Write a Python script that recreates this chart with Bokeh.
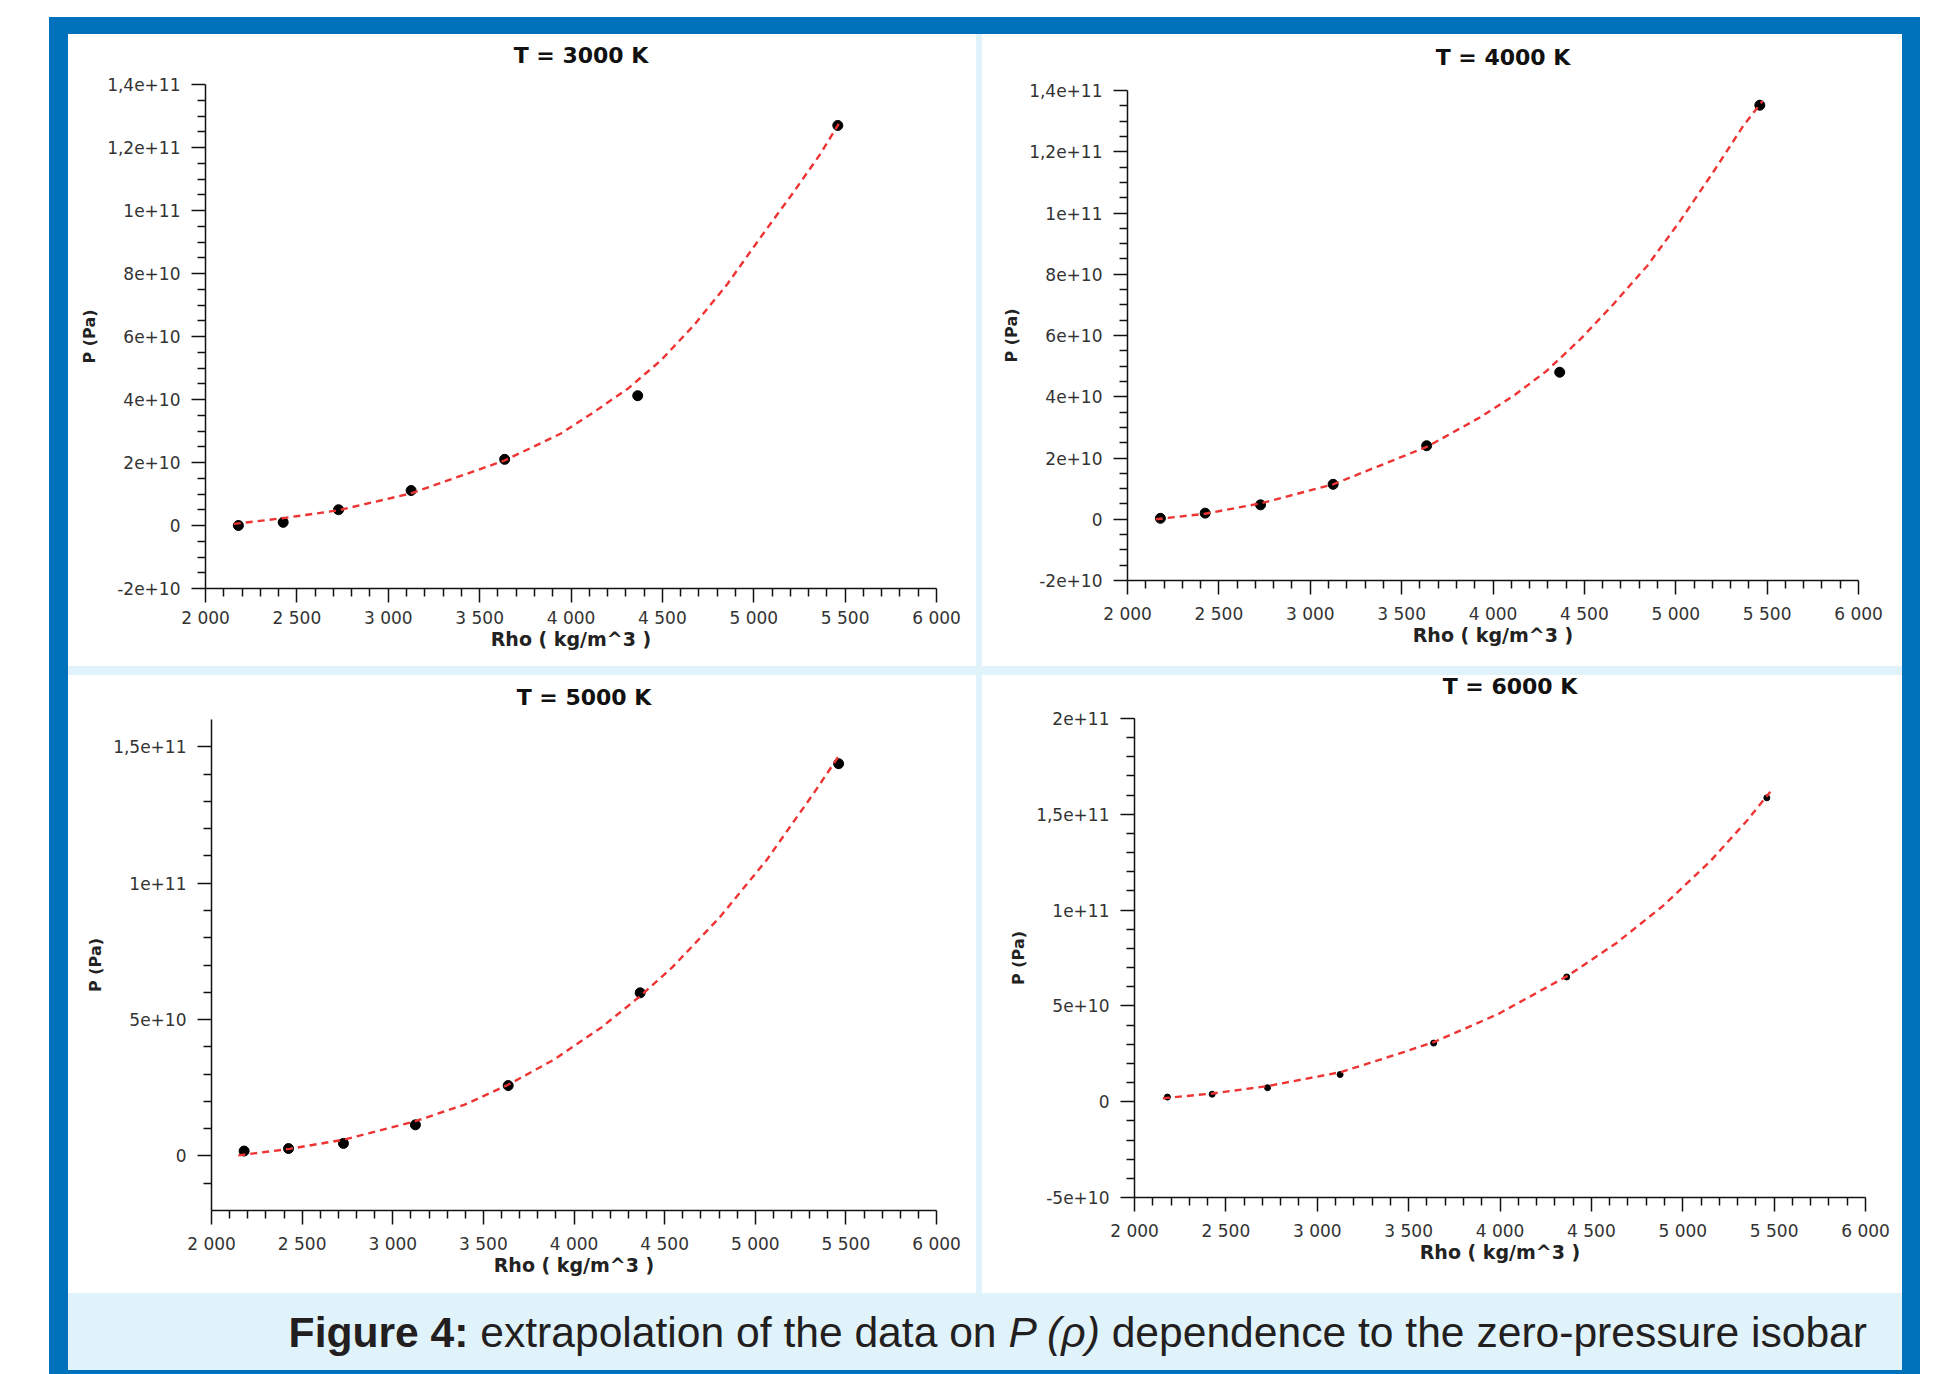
import numpy as np
from bokeh.plotting import figure
from bokeh.models import FixedTicker, Div, Spacer, Range1d
from bokeh.layouts import row, column
from bokeh.embed import file_html
from bokeh.resources import INLINE

# ---------------- data ----------------
RHO = [2180, 2425, 2728, 3125, 3637, 4365, 5460]

P_3000 = [0.0, 1.0e9, 5.0e9, 1.11e10, 2.10e10, 4.12e10, 1.27e11]
P_4000 = [3.0e8, 2.0e9, 4.7e9, 1.14e10, 2.40e10, 4.80e10, 1.352e11]
P_5000 = [1.8e9, 2.7e9, 4.6e9, 1.14e10, 2.58e10, 5.98e10, 1.438e11]
P_6000 = [2.4e9, 3.9e9, 7.3e9, 1.42e10, 3.06e10, 6.51e10, 1.586e11]

FIT_RHO_3000 = [2155, 2420, 2725, 3125, 3635, 3945, 4125, 4310, 4490, 4670, 4855, 5035, 5220, 5365, 5465]
FIT_P_3000 = [0.05e10, 0.23e10, 0.48e10, 1.02e10, 2.06e10, 2.92e10, 3.60e10, 4.34e10, 5.23e10,
              6.34e10, 7.66e10, 9.13e10, 10.6e10, 11.8e10, 12.75e10]

FIT_RHO_4000 = [2155, 2425, 2730, 3125, 3640, 3930, 4115, 4295, 4480, 4660, 4845, 5025, 5210, 5370, 5475]
FIT_P_4000 = [0.0, 0.18e10, 0.52e10, 1.14e10, 2.37e10, 3.33e10, 4.04e10, 4.85e10, 5.89e10,
              7.03e10, 8.28e10, 9.75e10, 11.38e10, 12.85e10, 13.66e10]

FIT_RHO_5000 = [2148, 2430, 2725, 3113, 3397, 3634, 3892, 4153, 4358, 4543, 4803, 5064, 5324, 5472]
FIT_P_5000 = [0.02e10, 0.26e10, 0.59e10, 1.25e10, 1.88e10, 2.60e10, 3.54e10, 4.72e10, 5.82e10,
              6.92e10, 8.74e10, 10.86e10, 13.31e10, 14.77e10]

FIT_RHO_6000 = [2156, 2427, 2732, 3127, 3477, 3643, 3989, 4372, 4634, 4892, 5150, 5357, 5479]
FIT_P_6000 = [0.18e10, 0.43e10, 0.82e10, 1.54e10, 2.60e10, 3.13e10, 4.57e10, 6.58e10, 8.26e10,
              10.22e10, 12.54e10, 14.73e10, 16.18e10]

X_TICKS = [2000, 2500, 3000, 3500, 4000, 4500, 5000, 5500, 6000]
X_TICK_LABELS = ["2 000", "2 500", "3 000", "3 500", "4 000", "4 500", "5 000", "5 500", "6 000"]

Y_TICKS_A = [-2e10, 0, 2e10, 4e10, 6e10, 8e10, 1e11, 1.2e11, 1.4e11]
Y_TICK_LABELS_A = ["-2e+10", "0", "2e+10", "4e+10", "6e+10", "8e+10", "1e+11", "1,2e+11", "1,4e+11"]

Y_TICKS_5000 = [0, 5e10, 1e11, 1.5e11]
Y_TICK_LABELS_5000 = ["0", "5e+10", "1e+11", "1,5e+11"]

Y_TICKS_6000 = [-5e10, 0, 5e10, 1e11, 1.5e11, 2e11]
Y_TICK_LABELS_6000 = ["-5e+10", "0", "5e+10", "1e+11", "1,5e+11", "2e+11"]

TITLES = ["T = 3000 K", "T = 4000 K", "T = 5000 K", "T = 6000 K"]
X_LABEL = "Rho ( kg/m^3 )"
Y_LABEL = "P (Pa)"

# ---------------- styling ----------------
BLUE = "#0072bc"
LIGHT = "#e0f2fa"
FONT = "DejaVu Sans"
RED = "#ee3333"


def minor_ticks(lo, hi, step, majors):
    out = []
    for v in np.arange(lo, hi + step / 2, step):
        if any(abs(v - t) < step / 10 for t in majors):
            continue
        if abs(v - lo) < step / 10 or abs(v - hi) < step / 10:
            continue
        out.append(float(v))
    return out


def make_panel(title, width, height, borders, title_h, title_cx, title_top,
               y_range, y_ticks, y_labels, y_minor, pts, fit_x, fit_y, msize,
               x_lab_standoff, x_axis_standoff):
    left, right, top, bottom = borders
    p = figure(width=width, height=height - title_h, x_range=Range1d(2000, 6000),
               y_range=Range1d(*y_range), output_backend="svg", toolbar_location=None,
               min_border_left=left, min_border_right=right,
               min_border_top=top - title_h, min_border_bottom=bottom, margin=0)
    p.outline_line_color = None
    p.grid.visible = False
    p.background_fill_color = "white"
    p.border_fill_color = "white"

    p.scatter(RHO, pts, size=msize, color="black")
    p.line(fit_x, fit_y, line_color=RED, line_width=2.4, line_dash="7 5")

    xa = p.xaxis[0]
    ya = p.yaxis[0]
    xa.ticker = FixedTicker(ticks=X_TICKS, minor_ticks=minor_ticks(2000, 6000, 100, X_TICKS))
    xa.major_label_overrides = {float(t): s for t, s in zip(X_TICKS, X_TICK_LABELS)}
    ya.ticker = FixedTicker(ticks=y_ticks, minor_ticks=minor_ticks(y_range[0], y_range[1], y_minor, y_ticks))
    ya.major_label_overrides = {float(t): s for t, s in zip(y_ticks, y_labels)}

    for ax in (xa, ya):
        ax.axis_line_color = "#111111"
        ax.axis_line_width = 1.5
        ax.major_tick_line_color = "#111111"
        ax.minor_tick_line_color = "#111111"
        ax.major_tick_line_width = 1.5
        ax.minor_tick_line_width = 1.5
        ax.major_tick_out = 14
        ax.major_tick_in = 0
        ax.minor_tick_out = 8
        ax.minor_tick_in = 0
        ax.major_label_text_font = FONT
        ax.major_label_text_font_size = "17px"
        ax.major_label_text_color = "#333333"
        ax.axis_label_text_font = FONT
        ax.axis_label_text_font_style = "bold"
        ax.axis_label_text_color = "#222222"
    xa.major_label_standoff = x_lab_standoff
    xa.axis_label_standoff = x_axis_standoff
    ya.major_label_standoff = 11
    ya.axis_label_standoff = 5
    xa.axis_label = X_LABEL
    ya.axis_label = Y_LABEL
    xa.axis_label_text_font_size = "19px"
    ya.axis_label_text_font_size = "16px"

    head_html = (
        f'<div style="position:relative;width:{width}px;height:{title_h}px;">'
        f'<div style="position:absolute;left:{title_cx}px;top:{title_top}px;transform:translateX(-50%);'
        "white-space:nowrap;font-family:'DejaVu Sans',sans-serif;font-weight:bold;"
        f'font-size:22px;line-height:22px;color:#111111;">{title}</div></div>'
    )
    head = Div(text=head_html, width=width, height=title_h, margin=0,
               styles={"background-color": "white"})
    return column(head, p, spacing=0, margin=0, styles={"background-color": "white"})


c1 = make_panel(TITLES[0], 908, 632, (137, 40, 50, 78), 34, 513, 11,
                (-2e10, 1.4e11), Y_TICKS_A, Y_TICK_LABELS_A, 5e9,
                P_3000, FIT_RHO_3000, FIT_P_3000, 10, 5, -3)
c2 = make_panel(TITLES[1], 920, 632, (145, 44, 56, 86), 40, 521, 13,
                (-2e10, 1.4e11), Y_TICKS_A, Y_TICK_LABELS_A, 5e9,
                P_4000, FIT_RHO_4000, FIT_P_4000, 10, 9, -3)
c3 = make_panel(TITLES[2], 908, 618, (143, 40, 44, 83), 32, 516, 12,
                (-2e10, 1.6e11), Y_TICKS_5000, Y_TICK_LABELS_5000, 1e10,
                P_5000, FIT_RHO_5000, FIT_P_5000, 10, 9, -3)
c4 = make_panel(TITLES[3], 920, 618, (152, 37, 43, 96), 29, 528, 1,
                (-5e10, 2e11), Y_TICKS_6000, Y_TICK_LABELS_6000, 1e10,
                P_6000, FIT_RHO_6000, FIT_P_6000, 6, 9, -3)

caption_html = (
    '<div style="width:1834px;height:77px;position:relative;">'
    '<div style="position:absolute;right:35px;top:18px;line-height:43px;white-space:nowrap;'
    "font-family:'Liberation Sans',Arial,sans-serif;font-size:42.6px;color:#231f20;\">"
    '<b>Figure 4:</b> extrapolation of the data on <i>P (&rho;)</i> dependence to the zero-pressure isobar'
    '</div></div>'
)
cap = Div(text=caption_html, width=1834, height=77, margin=0, styles={"background-color": LIGHT})

row1 = row(c1, c2, spacing=6, margin=0)
row2 = row(c3, c4, spacing=6, margin=0)
gap = Spacer(width=1834, height=9, margin=0)
inner = column(row1, gap, row2, cap, spacing=0,
               styles={"background-color": LIGHT}, margin=(17, 18, 4, 19))
outer = column(inner, styles={"background-color": BLUE}, margin=(17, 0, 0, 49))

open("out.html", "w").write(file_html(outer, INLINE))
